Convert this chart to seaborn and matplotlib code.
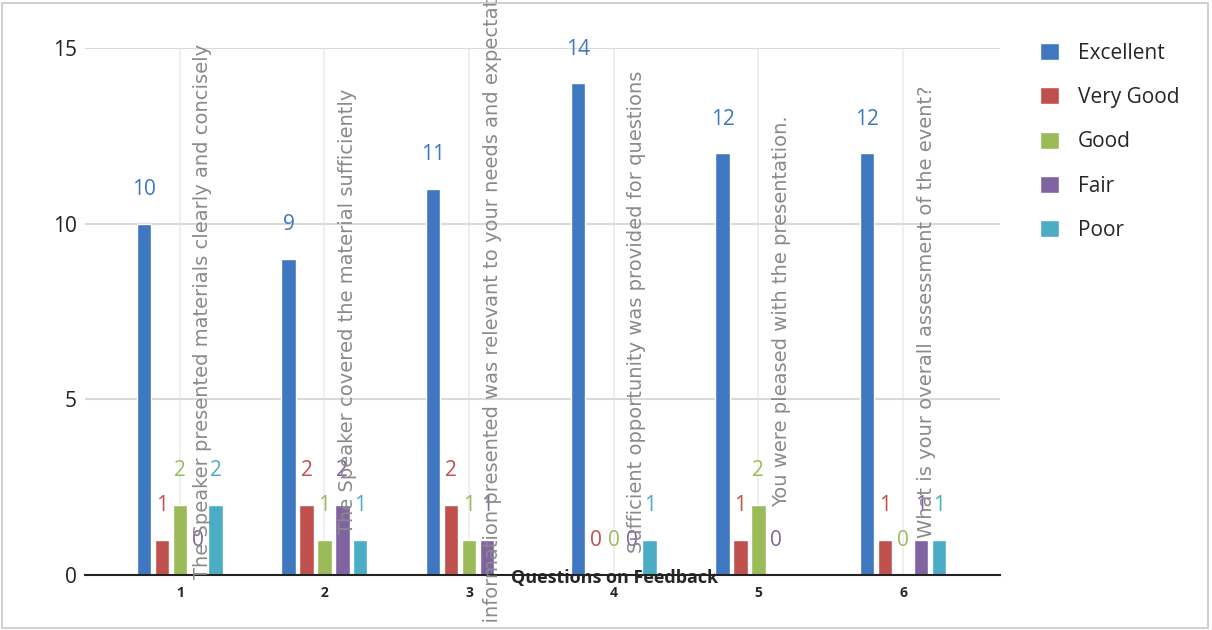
import numpy as np
import pandas as pd
import matplotlib
matplotlib.use("Agg")
import matplotlib.pyplot as plt
from matplotlib.patches import Rectangle
import seaborn as sns

# dados do grafico
questions = ["1", "2", "3", "4", "5", "6"]
question_texts = [
    "The Speaker presented materials clearly and concisely",
    "The Speaker covered the material sufficiently",
    "The information presented was relevant to your needs and expectations",
    "Sufficient opportunity was provided for questions",
    "You were pleased with the presentation.",
    "What is your overall assessment of the event?",
]
ratings = ["Excellent", "Very Good", "Good", "Fair", "Poor"]
excellent = [10, 9, 11, 14, 12, 12]
very_good = [1, 2, 2, 0, 1, 1]
good = [2, 1, 1, 0, 2, 0]
fair = [0, 2, 1, 0, 0, 1]
poor = [2, 1, np.nan, 1, np.nan, 1]

colors = ["#3F77C0", "#C0504D", "#9BBB59", "#8064A2", "#4BACC6"]

series = {"Excellent": excellent, "Very Good": very_good, "Good": good,
          "Fair": fair, "Poor": poor}
rows = []
for r in ratings:
    for q, v in zip(questions, series[r]):
        rows.append({"question": q, "rating": r, "count": v})
df = pd.DataFrame(rows).dropna()

sns.set_style("white")
plt.rcParams["font.family"] = ["Open Sans", "DejaVu Sans"]

fig = plt.figure(figsize=(12.12, 6.3), dpi=100)
ax = fig.add_axes([0.0701, 0.0873, 0.755, 0.8365])

sns.barplot(data=df, x="question", y="count", hue="rating", hue_order=ratings,
            order=questions, palette=colors, width=0.62, gap=0.2,
            saturation=1, ax=ax, zorder=3, errorbar=None)

# rotulos de valor
for cont, c in zip(ax.containers, colors):
    ax.bar_label(cont, fmt="%g", padding=17, color=c, fontsize=15)

ax.set_ylim(0, 15)
ax.set_xlim(-0.655, 5.67)
ax.set_yticks([0, 5, 10, 15])
ax.tick_params(axis="y", labelsize=15, length=0, pad=6, labelcolor="#222222")
ax.tick_params(axis="x", labelsize=10, length=0, pad=8)
for t in ax.get_xticklabels():
    t.set_fontweight("bold")

ax.yaxis.grid(True, color="#d9d9d9", linewidth=1.5, zorder=0)
ax.xaxis.grid(True, color="#ececec", linewidth=1.2, zorder=0)
ax.set_axisbelow(True)
for s in ["top", "right", "left"]:
    ax.spines[s].set_visible(False)
ax.spines["bottom"].set_color("#222222")
ax.spines["bottom"].set_linewidth(1.5)
ax.spines["bottom"].set_zorder(4)

ax.set_ylabel("")
ax.set_xlabel("Questions on Feedback", fontsize=13, fontweight="bold")
ax.xaxis.set_label_coords(0.579, -0.006)
ax.xaxis.label.set_va("center")
ax.xaxis.label.set_zorder(6)

# textos das perguntas, rotacionados
for i, txt in enumerate(question_texts):
    ax.text(i + 0.16, 7.5, txt, rotation=90, ha="center", va="center",
            fontsize=14, color="#8a8a8a", zorder=5, clip_on=False,
            family=["DejaVu Sans"])

ax.legend(loc="upper left", bbox_to_anchor=(0.843, 0.962),
          bbox_transform=fig.transFigure, frameon=False, fontsize=15,
          handlelength=0.9, handleheight=0.9, labelspacing=1.12,
          handletextpad=0.9)

fig.add_artist(Rectangle((0.002, 0.003), 0.995, 0.992, transform=fig.transFigure,
                         fill=False, edgecolor="#c8c8c8", linewidth=1.2))

fig.savefig("out.png", dpi=100)
